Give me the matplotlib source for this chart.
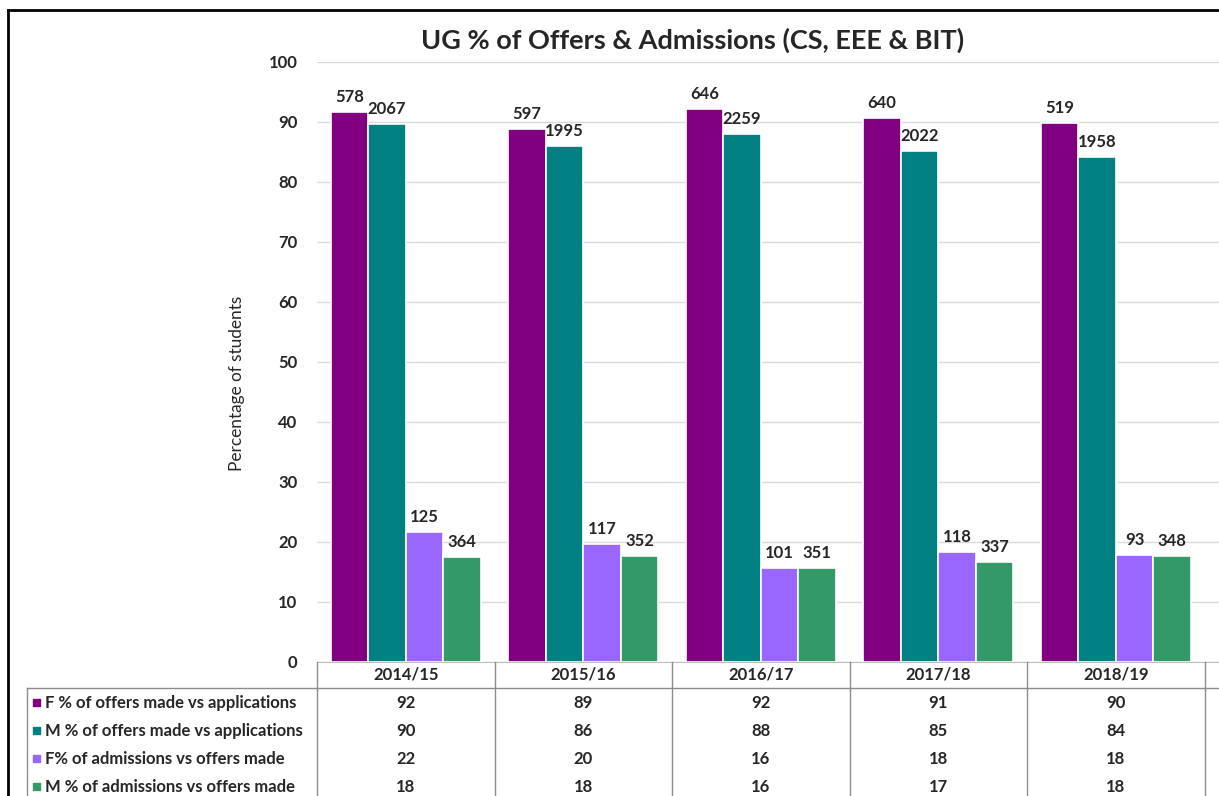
import numpy as np
import matplotlib.pyplot as plt
from matplotlib.lines import Line2D
from matplotlib.patches import Rectangle
from matplotlib.transforms import blended_transform_factory

plt.rcParams['font.family'] = ['Lato', 'DejaVu Sans']

years = ['2014/15', '2015/16', '2016/17', '2017/18', '2018/19']
series_names = ['F % of offers made vs applications',
                'M % of offers made vs applications',
                'F% of admissions vs offers made',
                'M % of admissions vs offers made']

# percentages (bar heights)
f_offers = [91.6, 88.8, 92.1, 90.6, 89.9]
m_offers = [89.6, 86.0, 88.0, 85.2, 84.2]
f_admit = [21.6, 19.6, 15.6, 18.4, 17.9]
m_admit = [17.5, 17.6, 15.6, 16.6, 17.6]

# student counts shown above bars
f_offers_n = [578, 597, 646, 640, 519]
m_offers_n = [2067, 1995, 2259, 2022, 1958]
f_admit_n = [125, 117, 101, 118, 93]
m_admit_n = [364, 352, 351, 337, 348]

colors = ['#800080', '#008080', '#9966ff', '#339966']

W, H = 1219, 796
fig = plt.figure(figsize=(W / 100, H / 100), dpi=100)

def fx(px):
    return px / W

def fy(py):
    return 1 - py / H

ax_left, ax_right, ax_top, ax_bot = 317, 1219, 62, 662
ax = fig.add_axes([fx(ax_left), fy(ax_bot), fx(ax_right - ax_left), (ax_bot - ax_top) / H])

series = [f_offers, m_offers, f_admit, m_admit]
counts = [f_offers_n, m_offers_n, f_admit_n, m_admit_n]
x = np.arange(len(years))
bw = 0.211
fs = 12
for i, (vals, ns) in enumerate(zip(series, counts)):
    pos = x + (i - 1.5) * bw
    bars = ax.bar(pos, vals, width=bw, color=colors[i], edgecolor='white', linewidth=1.2, zorder=3)
    for b, n in zip(bars, ns):
        ax.annotate(str(n), (b.get_x() + b.get_width() / 2, b.get_height()),
                    xytext=(0, 5), textcoords='offset points', ha='center', va='bottom',
                    fontsize=fs, fontweight='bold', color='#262626')

ax.set_xlim(-0.5, -0.5 + (ax_right - ax_left) / 177.5)
ax.set_ylim(0, 100)
ax.set_yticks(range(0, 101, 10))
ax.set_yticklabels([str(v) for v in range(0, 101, 10)], fontsize=fs, fontweight='bold', color='#262626')
ax.tick_params(axis='y', length=0, pad=14)
ax.set_xticks([])
ax.grid(axis='y', color='#d9d9d9', linewidth=1, zorder=0)
for s in ['top', 'right', 'left']:
    ax.spines[s].set_visible(False)
ax.spines['bottom'].set_color('#bfbfbf')

fig.text(fx(237), fy(383), 'Percentage of students', rotation=90, ha='center', va='center',
         fontsize=12.4, color='#262626')
fig.text(fx(693), fy(40), 'UG % of Offers & Admissions (CS, EEE & BIT)', ha='center', va='center',
         fontsize=19.5, fontweight='bold', color='#262626')

# data table under the chart
tr = blended_transform_factory(ax.transData, fig.transFigure)
line_c = '#8c8c8c'
for k in range(len(years)):
    fig.add_artist(Line2D([k - 0.5, k - 0.5], [fy(662), 0], transform=tr, color=line_c, lw=1))
    fig.text(k, fy(675), years[k], transform=tr, ha='center', va='center',
             fontsize=fs, fontweight='bold', color='#262626')
fig.add_artist(Line2D([len(years) - 0.5] * 2, [fy(662), 0], transform=tr, color=line_c, lw=1))
fig.add_artist(Line2D([fx(27), 1], [fy(688), fy(688)], color=line_c, lw=1))
fig.add_artist(Line2D([fx(27), fx(27)], [fy(688), 0], color=line_c, lw=1))

row_y = [703, 731, 759, 787]
for r, (name, vals) in enumerate(zip(series_names, series)):
    fig.add_artist(Rectangle((fx(33), fy(row_y[r] + 3)), 7 / W, 7 / H, color=colors[r]))
    fig.text(fx(45), fy(row_y[r]), name, ha='left', va='center',
             fontsize=fs, fontweight='bold', color='#262626')
    for k, v in enumerate(vals):
        fig.text(k, fy(row_y[r]), str(int(v + 0.5)), transform=tr, ha='center', va='center',
                 fontsize=fs, fontweight='bold', color='#262626')

# outer chart frame (cropped at right and bottom)
fig.add_artist(Line2D([fx(8), 1], [fy(10), fy(10)], color='black', lw=2))
fig.add_artist(Line2D([fx(8), fx(8)], [fy(10), 0], color='black', lw=2))

fig.savefig('out.png', dpi=100)
